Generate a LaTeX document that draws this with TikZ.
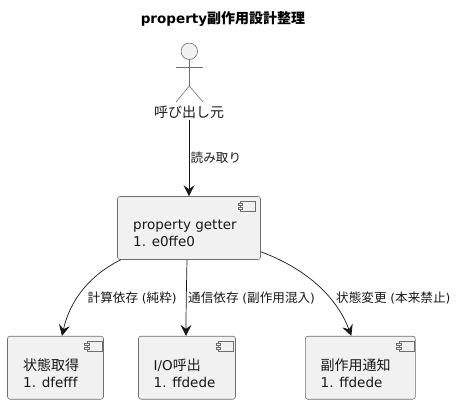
\documentclass[tikz,border=0pt]{standalone}
\usepackage{fontspec}
\setmainfont[Scale=0.965]{DejaVu Sans}
\newfontfamily\jpfont{Noto Sans CJK JP}
\newfontfamily\jpbold{Noto Sans CJK JP Bold}
\definecolor{boxfill}{RGB}{241,241,241}
\definecolor{inkline}{RGB}{24,24,24}
\definecolor{actorgray}{RGB}{110,110,110}
\usetikzlibrary{calc, positioning, arrows.meta}

\begin{document}
\begin{tikzpicture}[
    x=1pt, y=-1pt,
    compbox/.style={draw=actorgray, fill=boxfill, rounded corners=2.5pt, line width=0.6pt,
      minimum height=63pt, inner sep=0pt},
    comptext/.style={font=\fontsize{14}{17}\selectfont, align=left, text=inkline, inner sep=0pt, anchor=west},
    edgetext/.style={font=\fontsize{12.6}{15}\selectfont, text=inkline, inner sep=0pt, anchor=west},
    arrow/.style={-{Stealth[length=11pt, width=11pt, inset=4pt]}, inkline, line width=0.7pt},
    compicon/.pic={
      \draw[actorgray, fill=boxfill, line width=0.5pt] (-12,-5.2) rectangle (3.2,5.2);
      \draw[actorgray, fill=boxfill, line width=0.5pt] (-14.2,-3.2) rectangle (-9.8,-0.8);
      \draw[actorgray, fill=boxfill, line width=0.5pt] (-14.2,0.8) rectangle (-9.8,3.2);
    },
  ]
    \useasboundingbox (0,0) rectangle (458,404);
    \node[font=\fontsize{14}{17}\selectfont\bfseries, inner sep=0pt] (title) at (223,19) {property{\jpbold 副作用設計整理}};

    % actor
    \node[draw=actorgray, fill=boxfill, circle, minimum size=16.5pt, inner sep=0pt, line width=0.6pt] (head) at (189.3,51.3) {};
    \coordinate (hip) at (189.3,86);
    \draw[actorgray, line width=0.6pt] (head.south) -- (hip);
    \draw[actorgray, line width=0.6pt] (176,67.3) -- (203,67.3);
    \draw[actorgray, line width=0.6pt] (176,102) -- (hip) -- (203,102);
    \node[font=\fontsize{14}{17}\selectfont\jpfont, text=inkline, inner sep=0pt] (caller) at (189,112) {呼び出し元};

    % components
    \node[compbox, minimum width=143pt] (getter) at (189,228) {};
    \node[compbox, minimum width=96pt] (state) at (55.5,367.7) {};
    \node[compbox, minimum width=97pt] (io) at (187,367.7) {};
    \node[compbox, minimum width=110pt] (notify) at (360.3,367.7) {};
    \pic at (252.5,206.3) {compicon};
    \pic at (98.8,346.3) {compicon};
    \pic at (230.3,346.3) {compicon};
    \pic at (410.8,346.3) {compicon};
    \node[comptext] (gettertext) at (133,233.5) {property getter\\1. e0ffe0};
    \node[comptext] (statetext) at (23,373.5) {{\jpfont 状態取得}\\1. dfefff};
    \node[comptext] (iotext) at (153.5,373.5) {I/O{\jpfont 呼出}\\1. ffdede};
    \node[comptext] (notifytext) at (320.5,373.5) {{\jpfont 副作用通知}\\1. ffdede};

    \draw[arrow] ([yshift=-1pt]caller.south -| getter.north) -- (getter.north);
    \draw[arrow] ([xshift=3.5pt]getter.south west) .. controls (90,275) and (70,300) .. ([xshift=6.5pt]state.north);
    \draw[arrow] ([xshift=-2pt]getter.south) .. controls (186.5,285) and (186,310) .. ([xshift=-1pt]io.north);
    \draw[arrow] ([yshift=8pt]getter.south east) .. controls (310,270) and (338,300) .. ([xshift=-9pt]notify.north);

    \node[edgetext, font=\fontsize{12.6}{15}\selectfont\jpfont] (readlabel) at (190.5,158) {読み取り};
    \node[edgetext] (calclabel) at (87.5,298) {{\jpfont 計算依存} ({\jpfont 純粋})};
    \node[edgetext] (iolabel) at (188,298) {{\jpfont 通信依存} ({\jpfont 副作用混入})};
    \node[edgetext] (changelabel) at (336,298) {{\jpfont 状態変更} ({\jpfont 本来禁止})};
  \end{tikzpicture}
\end{document}
